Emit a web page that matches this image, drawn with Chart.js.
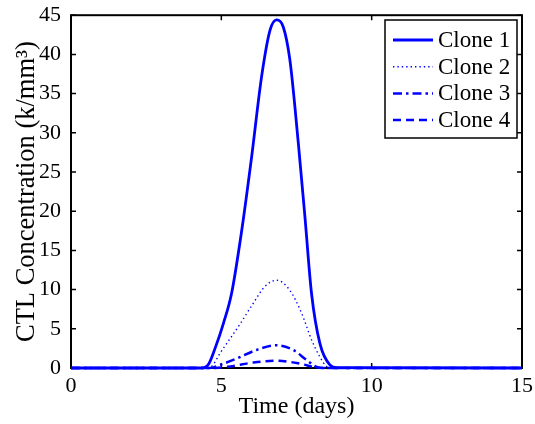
<!DOCTYPE html>
<html>
<head>
<meta charset="utf-8">
<script src="https://cdn.jsdelivr.net/npm/chart.js@4/dist/chart.umd.min.js"></script>
<style>
  html, body { margin: 0; padding: 0; background: #fff; }
  #wrap { width: 535px; height: 424px; }
</style>
</head>
<body>
<div id="wrap"><canvas id="ctl-chart" width="535" height="424"></canvas></div>
<script>
// values (days, k/mm^3)
const clone1Days = [0, 4.3, 4.56, 4.8, 5.07, 5.34, 5.68, 6.01, 6.34, 6.62, 6.84, 7.06, 7.28, 7.56, 7.78, 8.0, 8.28, 8.61, 8.85, 15];
const clone1Vals = [0, 0, 0.4, 2.6, 5.7, 9.5, 17.6, 27, 37.2, 43.1, 44.4, 43.5, 39.3, 28.7, 19.3, 9.5, 3.1, 0.4, 0.05, 0];
const clone2Days = [0, 4.5, 4.7, 4.96, 5.57, 6.07, 6.45, 6.84, 7.28, 7.67, 8.0, 8.28, 8.5, 8.7, 15];
const clone2Vals = [0, 0, 0.3, 1.9, 5.3, 8.3, 10.4, 11.2, 9.9, 7.0, 3.6, 1.4, 0.2, 0, 0];
const clone3Days = [0, 4.6, 4.96, 5.51, 6.17, 6.84, 7.39, 7.84, 8.2, 8.5, 15];
const clone3Vals = [0, 0, 0.4, 1.2, 2.3, 2.9, 2.3, 1.0, 0.1, 0, 0];
const clone4Days = [0, 4.8, 5.3, 6.07, 6.84, 7.62, 8.17, 8.5, 15];
const clone4Vals = [0, 0, 0.2, 0.7, 0.93, 0.55, 0.05, 0, 0];

const seriesNames = ['Clone 1', 'Clone 2', 'Clone 3', 'Clone 4'];
const xTicks = [0, 5, 10, 15];
const yTicks = [0, 5, 10, 15, 20, 25, 30, 35, 40, 45];

const BLUE = '#0000ff';
const FONT_FAMILY = '"Liberation Serif", "Times New Roman", serif';

function toPoints(days, vals) {
  return days.map((d, i) => ({ x: d, y: vals[i] }));
}

const lineStyles = [
  { width: 2.8, dash: [] },
  { width: 1.4, dash: [1.4, 3] },
  { width: 2.5, dash: [9, 4, 2.5, 4] },
  { width: 2.5, dash: [8, 5] },
];

const datasets = [
  [clone1Days, clone1Vals],
  [clone2Days, clone2Vals],
  [clone3Days, clone3Vals],
  [clone4Days, clone4Vals],
].map(([d, v], i) => ({
  label: seriesNames[i],
  data: toPoints(d, v),
  borderColor: BLUE,
  backgroundColor: BLUE,
  borderWidth: lineStyles[i].width,
  borderDash: lineStyles[i].dash,
  pointRadius: 0,
  showLine: true,
  fill: false,
  cubicInterpolationMode: 'monotone',
  clip: 4,
  order: 4 - i,
}));

// MATLAB-ish box with inward ticks, plus the boxed legend
const boxPlugin = {
  id: 'matlabBox',
  beforeDatasetsDraw(chart) {
    const { ctx, chartArea: a, scales } = chart;
    ctx.save();
    ctx.strokeStyle = '#000';
    ctx.lineWidth = 2;
    ctx.strokeRect(a.left, a.top, a.right - a.left, a.bottom - a.top);
    ctx.lineWidth = 1.5;
    const len = 5;
    xTicks.forEach((t) => {
      const px = scales.x.getPixelForValue(t);
      ctx.beginPath();
      ctx.moveTo(px, a.bottom); ctx.lineTo(px, a.bottom - len);
      ctx.moveTo(px, a.top); ctx.lineTo(px, a.top + len);
      ctx.stroke();
    });
    yTicks.forEach((t) => {
      const py = scales.y.getPixelForValue(t);
      ctx.beginPath();
      ctx.moveTo(a.left, py); ctx.lineTo(a.left + len, py);
      ctx.moveTo(a.right, py); ctx.lineTo(a.right - len, py);
      ctx.stroke();
    });
    ctx.restore();
  },
  afterDatasetsDraw(chart) {
    const { ctx } = chart;
    const boxL = 385, boxT = 20, boxW = 132, boxH = 118;
    ctx.save();
    ctx.fillStyle = '#fff';
    ctx.fillRect(boxL, boxT, boxW, boxH);
    ctx.strokeStyle = '#000';
    ctx.lineWidth = 1.5;
    ctx.strokeRect(boxL, boxT, boxW, boxH);
    ctx.font = '23px ' + FONT_FAMILY;
    ctx.textBaseline = 'middle';
    ctx.fillStyle = '#000';
    chart.data.datasets.forEach((ds, i) => {
      const y = boxT + 20 + i * 26.7;
      ctx.beginPath();
      ctx.strokeStyle = ds.borderColor;
      ctx.lineWidth = ds.borderWidth;
      ctx.setLineDash(ds.borderDash);
      ctx.moveTo(boxL + 8, y);
      ctx.lineTo(boxL + 48, y);
      ctx.stroke();
      ctx.setLineDash([]);
      ctx.fillText(ds.label, boxL + 53, y + 1);
    });
    ctx.restore();
  },
};

new Chart(document.getElementById('ctl-chart'), {
  type: 'scatter',
  data: { datasets },
  plugins: [boxPlugin],
  options: {
    responsive: false,
    animation: false,
    layout: { padding: { top: 15, right: 13, left: 0, bottom: 0 } },
    plugins: {
      legend: { display: false },
      tooltip: { enabled: false },
    },
    scales: {
      x: {
        type: 'linear',
        min: 0,
        max: 15,
        afterBuildTicks: (s) => { s.ticks = xTicks.map((v) => ({ value: v })); },
        afterFit: (s) => { s.height = 56; },
        grid: { display: false },
        border: { display: false },
        ticks: { color: '#000', padding: -3, font: { family: FONT_FAMILY, size: 22 } },
        title: {
          display: true,
          text: 'Time (days)',
          color: '#000',
          padding: { top: 0, bottom: 3 },
          font: { family: FONT_FAMILY, size: 24 },
        },
      },
      y: {
        min: 0,
        max: 45,
        afterBuildTicks: (s) => { s.ticks = yTicks.map((v) => ({ value: v })); },
        afterFit: (s) => { s.width = 71; },
        grid: { display: false },
        border: { display: false },
        ticks: { color: '#000', padding: 2, font: { family: FONT_FAMILY, size: 22 } },
        title: {
          display: true,
          text: 'CTL Concentration (k/mm³)',
          color: '#000',
          padding: { top: 11, bottom: 0 },
          font: { family: FONT_FAMILY, size: 26.5 },
        },
      },
    },
  },
});
</script>
</body>
</html>
